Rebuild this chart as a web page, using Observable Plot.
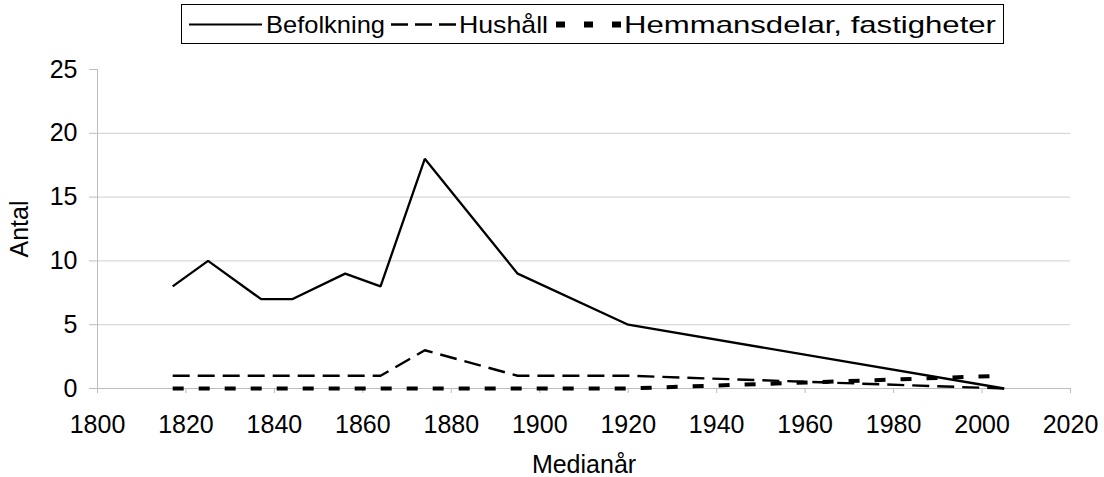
<!DOCTYPE html>
<html>
<head>
<meta charset="utf-8">
<script src="https://cdn.jsdelivr.net/npm/d3@7"></script>
<script src="https://cdn.jsdelivr.net/npm/@observablehq/plot@0.6"></script>
<style>
  html, body { margin: 0; padding: 0; background: #fff; }
  body { font-family: "Liberation Sans", Arial, sans-serif; }
  #wrap { position: relative; width: 1104px; height: 477px; overflow: hidden; }
  #legend { position: absolute; left: 0; top: 0; }
  #chart svg { display: block; }
</style>
</head>
<body>
<div id="wrap">
  <div id="chart"></div>
  <svg id="legend" width="1104" height="50"></svg>
</div>
<script>
// ---- data ----
const years        = [1817, 1825, 1837, 1844, 1856, 1864, 1874, 1895, 1920, 2005];
const befolkning   = [8, 10, 7, 7, 9, 8, 18, 9, 5, 0];
const hushall      = [1, 1, 1, 1, 1, 1, 3, 1, 1, 0];
const hemmansdelar = [0, 0, 0, 0, 0, 0, 0, 0, 0, 1];
const seriesNames  = ["Befolkning", "Hushåll", "Hemmansdelar, fastigheter"];
const xTicks = [1800, 1820, 1840, 1860, 1880, 1900, 1920, 1940, 1960, 1980, 2000, 2020];
const yTicks = [0, 5, 10, 15, 20, 25];
const gridValues = [5, 10, 15, 20];
const xLabel = "Medianår";
const yLabel = "Antal";

// ---- styles ----
const seriesStyles = [
  {strokeWidth: 2.3, dash: null},
  {strokeWidth: 2.4, dash: "17,8"},
  {strokeWidth: 4,   dash: "11,15"}
];
const axisGray = "#bdbdbd";
const gridGray = "#cfcfcf";

const rows = years.map((yr, i) => ({year: yr, b: befolkning[i], h: hushall[i], m: hemmansdelar[i]}));
const keys = ["b", "h", "m"];

const chart = Plot.plot({
  width: 1104,
  height: 477,
  marginLeft: 97,
  marginRight: 34,
  marginTop: 69,
  marginBottom: 89,
  style: {fontFamily: "'Liberation Sans', Arial, sans-serif", fontSize: "25px", background: "#fff", color: "#000", overflow: "visible"},
  x: {domain: [1800, 2020], label: null},
  y: {domain: [0, 25], label: null},
  marks: [
    Plot.gridY(gridValues, {stroke: gridGray, strokeOpacity: 1, strokeWidth: 1}),
    Plot.ruleX([1800], {y1: 0, y2: 25, stroke: axisGray, strokeWidth: 1}),
    Plot.ruleY([0], {stroke: axisGray, strokeWidth: 1}),
    Plot.axisY(yTicks, {tickSize: 8, tickPadding: 12, stroke: axisGray, fill: "#000", fontSize: 25, label: null}),
    Plot.axisX(xTicks, {tickSize: 5, tickPadding: 22, stroke: axisGray, fill: "#000", fontSize: 25, label: null, tickFormat: "d"}),
    ...[2, 1, 0].map(i => Plot.line(rows, {
      x: "year", y: keys[i], stroke: "#000",
      strokeWidth: seriesStyles[i].strokeWidth,
      strokeDasharray: seriesStyles[i].dash,
      strokeLinecap: "butt", strokeLinejoin: "miter"
    })),
    Plot.text([yLabel], {frameAnchor: "left", dx: -78, rotate: -90, textAnchor: "middle", lineAnchor: "middle", fontSize: 25, fill: "#000"}),
    Plot.text([xLabel], {frameAnchor: "bottom", dy: 76, textAnchor: "middle", lineAnchor: "middle", fontSize: 25, fill: "#000"})
  ]
});
document.getElementById("chart").appendChild(chart);

// ---- legend (boxed, above the plot) ----
const lg = d3.select("#legend");
lg.append("rect").attr("x", 181.5).attr("y", 4.5).attr("width", 822).attr("height", 39)
  .attr("fill", "#fff").attr("stroke", "#000").attr("stroke-width", 1);
const legendItems = [
  {x1: 189, x2: 262, tx: 266, tw: 119},
  {x1: 391, x2: 456, tx: 459, tw: 89},
  {x1: 556, x2: 621, tx: 624, tw: 372}
];
const legendDash = [null, "17,7", "9,19"];
const legendWidth = [2.2, 2.4, 6];
seriesNames.forEach((name, i) => {
  const it = legendItems[i];
  lg.append("line").attr("x1", it.x1).attr("x2", it.x2).attr("y1", 24.5).attr("y2", 24.5)
    .attr("stroke", "#000").attr("stroke-width", legendWidth[i])
    .attr("stroke-dasharray", legendDash[i]);
  lg.append("text").attr("x", it.tx).attr("y", 33)
    .attr("font-family", "'Liberation Sans', Arial, sans-serif").attr("font-size", 24)
    .attr("textLength", it.tw).attr("lengthAdjust", "spacingAndGlyphs")
    .attr("fill", "#000").text(name);
});
</script>
</body>
</html>
